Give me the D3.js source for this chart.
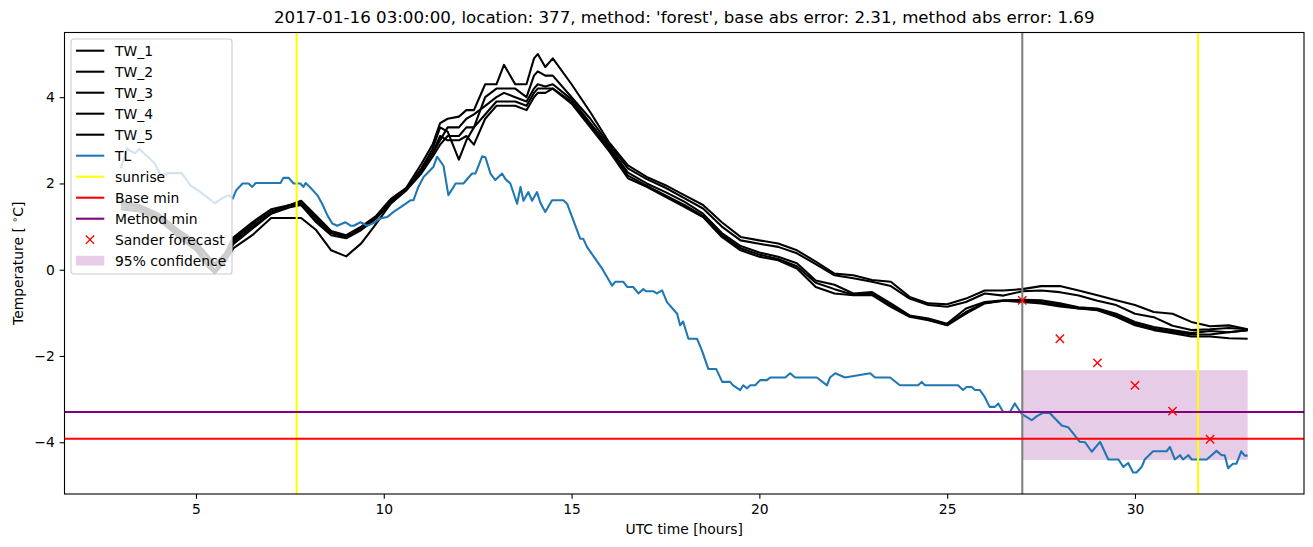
<!DOCTYPE html>
<html>
<head>
<meta charset="utf-8">
<script src="https://cdn.jsdelivr.net/npm/d3@7/dist/d3.min.js"></script>
<style>
body { margin: 0; background: #fff; }
svg text { font-family: "DejaVu Sans", sans-serif; fill: #000; }
</style>
</head>
<body>
<svg id="chart" width="1313" height="547"></svg>
<script>
// ---- data ----
var titleText = "2017-01-16 03:00:00, location: 377, method: 'forest', base abs error: 2.31, method abs error: 1.69";

var twHours = [3, 3.5, 4, 4.5, 5, 5.3, 5.5, 5.75, 6, 6.5, 7, 7.5, 7.8, 8.2, 8.6, 9, 9.4, 9.8, 10.2, 10.6,
    11, 11.3, 11.5, 11.7, 12, 12.2, 12.4, 12.7, 13, 13.2, 13.5, 13.8, 14, 14.1, 14.3, 14.5, 15, 15.5, 16, 16.5,
    17, 17.5, 18, 18.5, 19, 19.5, 20, 20.5, 21, 21.5, 22, 22.5, 23, 23.5, 24, 24.5, 25, 25.5, 26, 26.5,
    27, 27.5, 28, 28.5, 29, 29.5, 30, 30.5, 31, 31.5, 32, 32.5, 33];

var tw1 = [1.55, 1.5, 1.3, 0.95, 0.65, 0.35, 0.15, 0.35, 0.75, 1.1, 1.4, 1.5, 1.6, 1.25, 0.9, 0.8, 1.0, 1.25, 1.65, 1.9,
    2.45, 2.9, 3.4, 3.5, 3.55, 3.7, 3.7, 4.3, 4.3, 4.75, 4.3, 4.3, 4.9, 5.0, 4.7, 4.9, 4.3, 3.65, 2.95, 2.42,
    2.15, 1.96, 1.73, 1.5, 1.1, 0.76, 0.68, 0.61, 0.45, 0.19, -0.09, -0.13, -0.24, -0.28, -0.63, -0.78, -0.8, -0.67, -0.48, -0.48,
    -0.45, -0.38, -0.38, -0.48, -0.59, -0.71, -0.82, -0.98, -1.02, -1.21, -1.31, -1.29, -1.38];

var tw2 = [1.5, 1.45, 1.25, 0.9, 0.6, 0.3, 0.1, 0.3, 0.7, 1.05, 1.35, 1.5, 1.55, 1.2, 0.85, 0.78, 0.98, 1.22, 1.6, 1.88,
    2.35, 2.8, 3.3, 3.2, 2.55, 3.0, 3.3, 4.0, 4.2, 4.2, 4.2, 4.0, 4.5, 4.6, 4.5, 4.5, 4.0, 3.5, 2.9, 2.35,
    2.1, 1.9, 1.66, 1.42, 1.0, 0.68, 0.6, 0.53, 0.38, 0.13, -0.13, -0.2, -0.28, -0.38, -0.67, -0.82, -0.86, -0.75, -0.55, -0.6,
    -0.5, -0.48, -0.52, -0.6, -0.72, -0.82, -1.02, -1.1, -1.3, -1.4, -1.38, -1.35, -1.38];

var tw3 = [1.45, 1.4, 1.2, 0.85, 0.55, 0.2, 0.0, 0.25, 0.65, 1.0, 1.3, 1.5, 1.5, 1.15, 0.85, 0.75, 0.95, 1.2, 1.6, 1.85,
    2.3, 2.7, 3.0, 3.3, 3.3, 3.5, 3.6, 3.8, 4.0, 4.1, 4.0, 3.9, 4.2, 4.3, 4.25, 4.3, 3.95, 3.4, 2.85, 2.25,
    2.0, 1.8, 1.58, 1.3, 0.85, 0.55, 0.4, 0.3, 0.15, -0.25, -0.35, -0.55, -0.52, -0.78, -1.06, -1.13, -1.25, -0.9, -0.75, -0.71,
    -0.7, -0.71, -0.78, -0.87, -0.9, -1.02, -1.21, -1.33, -1.4, -1.47, -1.42, -1.45, -1.4];

var tw4 = [1.4, 1.35, 1.15, 0.8, 0.5, 0.12, -0.05, 0.2, 0.6, 0.95, 1.3, 1.45, 1.5, 1.1, 0.8, 0.73, 0.92, 1.19, 1.55, 1.84,
    2.23, 2.62, 2.9, 3.1, 3.1, 3.3, 3.3, 3.6, 3.9, 3.9, 3.9, 3.8, 4.1, 4.2, 4.2, 4.2, 3.9, 3.35, 2.8, 2.18,
    1.95, 1.72, 1.5, 1.25, 0.8, 0.5, 0.35, 0.25, 0.08, -0.3, -0.45, -0.58, -0.55, -0.82, -1.08, -1.15, -1.28, -0.98, -0.77, -0.72,
    -0.72, -0.75, -0.82, -0.9, -0.92, -1.06, -1.25, -1.37, -1.44, -1.5, -1.5, -1.45, -1.4];

var tw5 = [1.6, 1.45, 1.22, 0.78, 0.45, 0.08, -0.08, 0.15, 0.5, 0.8, 1.2, 1.2, 1.2, 0.92, 0.45, 0.31, 0.61, 1.07, 1.55, 1.85,
    2.28, 2.7, 3.1, 3.0, 3.0, 3.1, 2.9, 3.5, 3.8, 3.8, 3.8, 3.7, 4.0, 4.1, 4.1, 4.2, 3.85, 3.3, 2.75, 2.12,
    1.92, 1.69, 1.46, 1.22, 0.76, 0.45, 0.3, 0.22, 0.03, -0.4, -0.55, -0.59, -0.59, -0.86, -1.09, -1.17, -1.29, -1.02, -0.78, -0.72,
    -0.75, -0.78, -0.85, -0.9, -0.94, -1.09, -1.29, -1.4, -1.47, -1.55, -1.55, -1.59, -1.6];

var tlHours = [3, 3.17, 3.37, 3.49, 3.61, 3.74, 3.9, 4.08, 4.25, 4.62, 4.86, 5.05, 5.23, 5.5, 5.68, 5.87, 5.98, 6.07, 6.24, 6.4,
    6.5, 6.59, 7.25, 7.33, 7.47, 7.6, 7.78, 7.86, 7.92, 8.05, 8.23, 8.36, 8.5, 8.63, 8.76, 8.98, 9.12, 9.2, 9.38, 9.56,
    9.73, 9.91, 10.09, 10.26, 10.45, 10.71, 10.79, 10.92, 11.06, 11.32, 11.42, 11.59, 11.72, 11.86, 11.91, 12.12, 12.35, 12.44, 12.62, 12.71,
    12.84, 12.97, 13.15, 13.24, 13.37, 13.55, 13.64, 13.72, 13.85, 13.95, 14.08, 14.17, 14.3, 14.48, 14.78, 14.88, 15.23, 15.31, 15.41, 15.81,
    16.08, 16.16, 16.38, 16.48, 16.64, 16.78, 16.91, 16.99, 17.18, 17.27, 17.41, 17.54, 17.81, 17.89, 17.97, 18.11, 18.34, 18.47, 18.64, 18.85,
    19.01, 19.22, 19.3, 19.49, 19.57, 19.67, 19.76, 19.89, 20.02, 20.2, 20.29, 20.69, 20.82, 20.95, 21.53, 21.8, 21.88, 22.02, 22.28, 22.95,
    23.08, 23.48, 23.74, 24.23, 24.32, 24.41, 25.29, 25.42, 25.52, 25.65, 25.74, 25.87, 26.0, 26.13, 26.27, 26.36, 26.49, 26.67, 26.8, 26.98,
    27.25, 27.38, 27.55, 27.73, 27.87, 28.05, 28.22, 28.36, 28.53, 28.67, 28.85, 29.07, 29.29, 29.56, 29.69, 29.82, 29.95, 30.04, 30.18, 30.26,
    30.48, 30.84, 30.93, 31.06, 31.2, 31.28, 31.42, 31.51, 31.91, 32.04, 32.17, 32.31, 32.39, 32.48, 32.61, 32.7, 32.83, 32.92, 33];

var tlValues = [2.35, 2.81, 2.7, 2.8, 2.7, 2.6, 2.47, 2.15, 2.24, 2.24, 1.95, 1.84, 1.73, 1.54, 1.65, 1.73, 1.65, 1.84, 2.0, 2.0,
    1.92, 2.01, 2.01, 2.13, 2.13, 2.0, 2.0, 1.92, 2.01, 1.9, 1.73, 1.53, 1.26, 1.07, 1.02, 1.1, 1.02, 1.02, 1.1, 1.02,
    1.08, 1.19, 1.22, 1.34, 1.45, 1.61, 1.61, 1.92, 2.15, 2.38, 2.62, 2.41, 1.73, 1.92, 2.0, 2.0, 2.23, 2.23, 2.63, 2.6,
    2.23, 2.08, 2.23, 2.1, 2.0, 1.53, 1.92, 1.6, 1.8, 1.6, 1.8, 1.55, 1.34, 1.61, 1.61, 1.53, 0.72, 0.72, 0.53, 0.03,
    -0.37, -0.28, -0.28, -0.4, -0.4, -0.55, -0.45, -0.5, -0.5, -0.55, -0.48, -0.75, -1.02, -1.29, -1.2, -1.6, -1.6, -1.87, -2.3, -2.3,
    -2.6, -2.6, -2.68, -2.79, -2.68, -2.75, -2.68, -2.68, -2.56, -2.56, -2.5, -2.5, -2.4, -2.5, -2.5, -2.68, -2.5, -2.4, -2.5, -2.4,
    -2.5, -2.5, -2.68, -2.68, -2.6, -2.68, -2.68, -2.79, -2.72, -2.72, -2.79, -2.79, -2.95, -3.18, -3.18, -3.1, -3.3, -3.3, -3.1, -3.34,
    -3.49, -3.4, -3.32, -3.32, -3.45, -3.61, -3.65, -3.8, -3.99, -4.0, -4.22, -3.99, -4.4, -4.4, -4.57, -4.48, -4.7, -4.7, -4.57, -4.4,
    -4.21, -4.21, -4.11, -4.4, -4.3, -4.4, -4.3, -4.4, -4.4, -4.3, -4.2, -4.3, -4.3, -4.6, -4.5, -4.5, -4.21, -4.31, -4.31];

var sunriseHours = [7.68, 31.68];
var forecastStart = 27;
var baseMin = -3.92;
var methodMin = -3.30;

var sanderHours = [27, 28, 29, 30, 31, 32];
var sanderValues = [-0.71, -1.6, -2.16, -2.68, -3.28, -3.93];

var confHours = [27, 33];
var confLow = -4.41;
var confHigh = -2.33;

var xTicks = [5, 10, 15, 20, 25, 30];
var yTicks = [-4, -2, 0, 2, 4];

var twNames = ["TW_1", "TW_2", "TW_3", "TW_4", "TW_5"];
var twSeries = [tw1, tw2, tw3, tw4, tw5];

// ---- layout (matplotlib at 100 dpi) ----
var margin = {left: 64.5, top: 32.5, right: 9, bottom: 53};
var width = 1313 - margin.left - margin.right;
var height = 547 - margin.top - margin.bottom;
var fontSize = 13.89;
var lineWidth = 2.08;

var svg = d3.select("#chart");

var x = d3.scaleLinear().domain([1.5, 34.5]).range([0, width]);
var y = d3.scaleLinear().domain([-5.2, 5.5]).range([height, 0]);

svg.append("defs").append("clipPath")
    .attr("id", "plot_clip")
    .append("rect")
    .attr("width", width)
    .attr("height", height);

var g = svg.append("g")
    .attr("transform", "translate(" + margin.left + "," + margin.top + ")");

var plot = g.append("g").attr("clip-path", "url(#plot_clip)");

// 95% confidence band (drawn below the lines)
plot.append("rect")
    .attr("x", x(confHours[0]))
    .attr("y", y(confHigh))
    .attr("width", x(confHours[1]) - x(confHours[0]))
    .attr("height", y(confLow) - y(confHigh))
    .attr("fill", "purple")
    .attr("fill-opacity", 0.2);

var line = d3.line()
    .x(function(d) { return x(d[0]); })
    .y(function(d) { return y(d[1]); });

// road surface sensors
twSeries.forEach(function(values) {
    plot.append("path")
        .datum(twHours.map(function(h, i) { return [h, values[i]]; }))
        .attr("d", line)
        .attr("fill", "none")
        .attr("stroke", "black")
        .attr("stroke-width", lineWidth)
        .attr("stroke-linejoin", "round");
});

// air temperature
plot.append("path")
    .datum(tlHours.map(function(h, i) { return [h, tlValues[i]]; }))
    .attr("d", line)
    .attr("fill", "none")
    .attr("stroke", "#1f77b4")
    .attr("stroke-width", lineWidth)
    .attr("stroke-linejoin", "round");

// sunrise
plot.selectAll()
    .data(sunriseHours)
    .enter()
    .append("line")
    .attr("x1", function(d) { return x(d); })
    .attr("x2", function(d) { return x(d); })
    .attr("y1", 0)
    .attr("y2", height)
    .attr("stroke", "yellow")
    .attr("stroke-width", lineWidth);

// forecast start
plot.append("line")
    .attr("x1", x(forecastStart))
    .attr("x2", x(forecastStart))
    .attr("y1", 0)
    .attr("y2", height)
    .attr("stroke", "grey")
    .attr("stroke-width", lineWidth);

// minimum lines
[[baseMin, "red"], [methodMin, "purple"]].forEach(function(d) {
    plot.append("line")
        .attr("x1", 0)
        .attr("x2", width)
        .attr("y1", y(d[0]))
        .attr("y2", y(d[0]))
        .attr("stroke", d[1])
        .attr("stroke-width", lineWidth);
});

// sander forecast markers
var ms = 4.17;
sanderHours.forEach(function(h, i) {
    var cx = x(h), cy = y(sanderValues[i]);
    plot.append("path")
        .attr("d", "M" + (cx - ms) + "," + (cy - ms) + "L" + (cx + ms) + "," + (cy + ms) +
                   "M" + (cx - ms) + "," + (cy + ms) + "L" + (cx + ms) + "," + (cy - ms))
        .attr("stroke", "red")
        .attr("stroke-width", 1.39)
        .attr("fill", "none");
});

// axes
var minus = function(d) { return d < 0 ? "\u2212" + Math.abs(d) : String(d); };

var xAxis = g.append("g")
    .attr("transform", "translate(0," + height + ")")
    .call(d3.axisBottom(x).tickValues(xTicks).tickSize(4.86).tickPadding(4.86).tickFormat(minus));

var yAxis = g.append("g")
    .call(d3.axisLeft(y).tickValues(yTicks).tickSize(4.86).tickPadding(4.86).tickFormat(minus));

[xAxis, yAxis].forEach(function(a) {
    a.select(".domain").remove();
    a.selectAll(".tick line").attr("stroke", "black").attr("stroke-width", 1.1);
    a.selectAll(".tick text")
        .attr("font-size", fontSize)
        .attr("font-family", "DejaVu Sans, sans-serif")
        .attr("fill", "black");
});

// spines
g.append("rect")
    .attr("width", width)
    .attr("height", height)
    .attr("fill", "none")
    .attr("stroke", "black")
    .attr("stroke-width", 1.1);

// title and labels
g.append("text")
    .attr("x", width / 2)
    .attr("y", -9.5)
    .attr("text-anchor", "middle")
    .attr("font-size", 16.67)
    .text(titleText);

g.append("text")
    .attr("x", width / 2)
    .attr("y", height + 40)
    .attr("text-anchor", "middle")
    .attr("font-size", fontSize)
    .text("UTC time [hours]");

var ylab = svg.append("text")
    .attr("transform", "translate(23," + (margin.top + height / 2) + ") rotate(-90)")
    .attr("text-anchor", "middle")
    .attr("font-size", fontSize);
ylab.append("tspan").text("Temperature [ ");
ylab.append("tspan").attr("font-size", fontSize * 0.7).attr("dy", -5).text("\u2218");
ylab.append("tspan").attr("dy", 5).text("C]");

// legend
var legend = svg.append("g").attr("transform", "translate(71,39)");
legend.append("rect")
    .attr("width", 161)
    .attr("height", 235)
    .attr("rx", 2.8)
    .attr("fill", "white")
    .attr("fill-opacity", 0.8)
    .attr("stroke", "#cccccc")
    .attr("stroke-width", 1.1);

var legendItems = twNames.map(function(n) { return {name: n, kind: "line", color: "black"}; })
    .concat([
        {name: "TL", kind: "line", color: "#1f77b4"},
        {name: "sunrise", kind: "line", color: "yellow"},
        {name: "Base min", kind: "line", color: "red"},
        {name: "Method min", kind: "line", color: "purple"},
        {name: "Sander forecast", kind: "marker", color: "red"},
        {name: "95% confidence", kind: "patch", color: "purple"}
    ]);

legendItems.forEach(function(d, i) {
    var cy = 11.7 + i * 21;
    if (d.kind == "line") {
        legend.append("line")
            .attr("x1", 5).attr("x2", 33.3)
            .attr("y1", cy).attr("y2", cy)
            .attr("stroke", d.color)
            .attr("stroke-width", lineWidth);
    } else if (d.kind == "marker") {
        legend.append("path")
            .attr("d", "M" + (19 - ms) + "," + (cy - ms) + "L" + (19 + ms) + "," + (cy + ms) +
                       "M" + (19 - ms) + "," + (cy + ms) + "L" + (19 + ms) + "," + (cy - ms))
            .attr("stroke", d.color)
            .attr("stroke-width", 1.39);
    } else {
        legend.append("rect")
            .attr("x", 5).attr("y", cy - 4.9)
            .attr("width", 28.3).attr("height", 9.7)
            .attr("fill", d.color)
            .attr("fill-opacity", 0.2);
    }
    legend.append("text")
        .attr("x", 44)
        .attr("y", cy + 5)
        .attr("font-size", fontSize)
        .text(d.name);
});
</script>
</body>
</html>
